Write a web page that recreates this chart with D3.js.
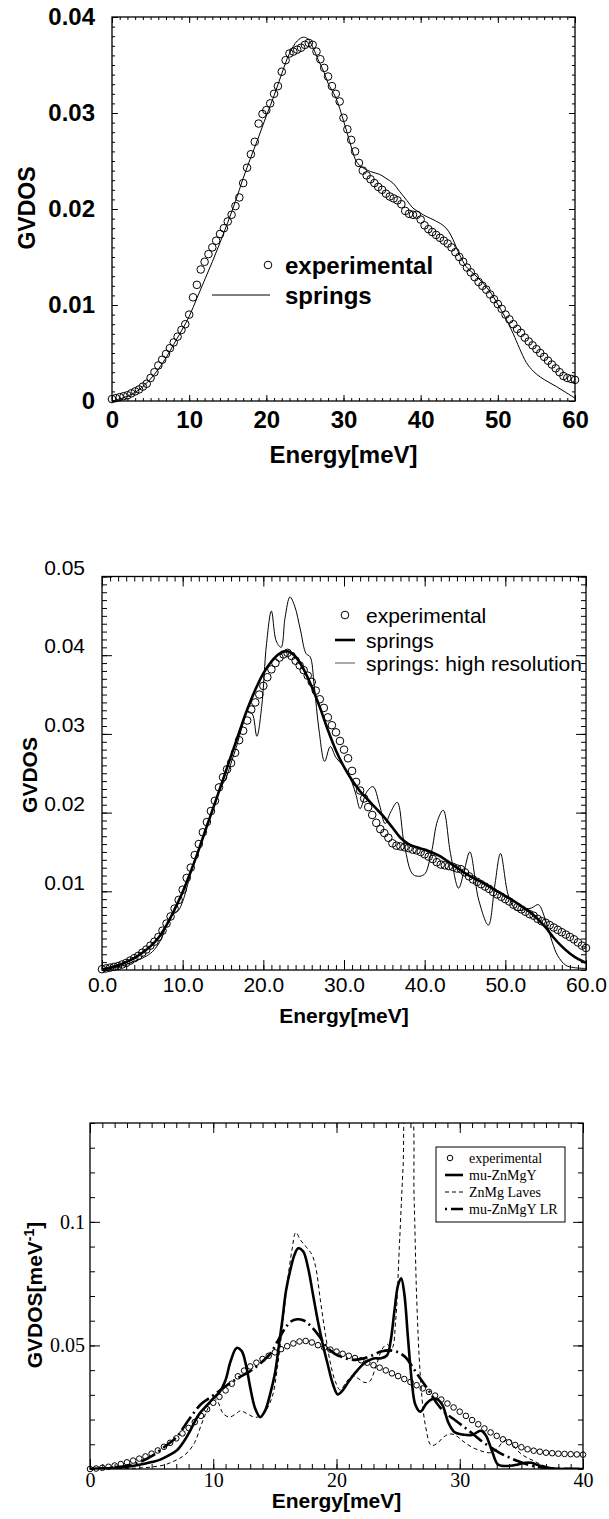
<!DOCTYPE html>
<html>
<head>
<meta charset="utf-8">
<script src="https://cdn.jsdelivr.net/npm/d3@7"></script>
<style>
  body { margin: 0; background: #fff; }
  svg { display: block; }
</style>
</head>
<body>
<div id="chart"></div>
<script>
// ---- panel 1 data (Energy meV, GVDOS) ----
const p1Experimental = [
  [0,0.0002],[0.5,0.0003],[1,0.0004],[1.5,0.0005],[2,0.0006],[2.5,0.0008],[3,0.001],[3.5,0.0012],
  [4,0.0015],[4.5,0.0018],[5,0.0024],[5.5,0.003],[6,0.0037],[6.5,0.0043],[7,0.0049],[7.5,0.0055],
  [8,0.0061],[8.5,0.0067],[9,0.0074],[9.5,0.008],[10,0.009],[10.5,0.0108],[11,0.0121],[11.5,0.0137],
  [12,0.0145],[12.5,0.0153],[13,0.016],[13.5,0.0167],[14,0.0174],[14.5,0.018],[15,0.0187],[15.5,0.0194],
  [16,0.0203],[16.5,0.0212],[17,0.0227],[17.5,0.0243],[18,0.0257],[18.5,0.027],[19,0.0289],[19.5,0.0299],
  [20,0.0303],[20.5,0.031],[21,0.032],[21.5,0.0328],[22,0.0343],[22.5,0.0355],[23,0.0362],[23.5,0.0364],
  [24,0.0366],[24.5,0.0368],[25,0.0371],[25.5,0.0373],[26,0.0371],[26.5,0.0364],[27,0.0356],[27.5,0.0347],
  [28,0.0338],[28.5,0.0328],[29,0.032],[29.5,0.0312],[30,0.0295],[30.5,0.0283],[31,0.0272],[31.5,0.026],
  [32,0.0248],[32.5,0.024],[33,0.0235],[33.5,0.0231],[34,0.0227],[34.5,0.0223],[35,0.022],[35.5,0.0216],
  [36,0.0213],[36.5,0.0211],[37,0.0209],[37.5,0.0205],[38,0.0198],[38.5,0.0195],[39,0.0194],[39.5,0.0194],
  [40,0.0189],[40.5,0.0183],[41,0.0179],[41.5,0.0176],[42,0.0173],[42.5,0.017],[43,0.0167],[43.5,0.0164],
  [44,0.016],[44.5,0.0155],[45,0.015],[45.5,0.0145],[46,0.0139],[46.5,0.0134],[47,0.0129],[47.5,0.0124],
  [48,0.012],[48.5,0.0116],[49,0.0111],[49.5,0.0106],[50,0.0101],[50.5,0.0096],[51,0.009],[51.5,0.0085],
  [52,0.008],[52.5,0.0075],[53,0.0071],[53.5,0.0066],[54,0.0062],[54.5,0.0058],[55,0.0054],[55.5,0.005],
  [56,0.0046],[56.5,0.0042],[57,0.0038],[57.5,0.0034],[58,0.003],[58.5,0.0026],[59,0.0024],[59.5,0.0023],
  [60,0.0022]
];
const p1Springs = [
  [0,0],[1,0.0002],[2,0.0005],[3,0.0009],[4,0.0015],[5,0.0023],[6,0.0033],[7,0.0045],[8,0.0059],
  [9,0.0073],[10,0.0088],[11,0.0107],[12,0.0126],[13,0.0145],[14,0.0165],[15,0.0186],[16,0.0208],
  [17,0.0232],[18,0.0254],[19,0.0275],[20,0.0297],[21,0.0318],[22,0.0341],[23,0.0362],[24,0.0375],
  [24.8,0.0379],[25.4,0.0377],[26,0.0369],[26.8,0.0354],[27.5,0.0342],[28,0.0331],[29,0.0316],
  [30,0.0292],[31,0.0265],[31.7,0.0249],[32.5,0.0243],[33.5,0.0239],[34.7,0.0236],[35.5,0.0232],
  [36.4,0.0227],[37.3,0.0218],[38.2,0.0209],[39,0.0201],[39.9,0.0196],[40.8,0.0192],[41.6,0.0189],
  [42.9,0.0183],[43.6,0.0177],[44.2,0.0168],[45,0.0153],[45.9,0.014],[46.8,0.0133],[47.7,0.0126],
  [48.6,0.0118],[49.4,0.0109],[50.1,0.0099],[50.7,0.0091],[51.4,0.008],[52,0.007],[52.8,0.0055],
  [53.7,0.004],[54.6,0.0031],[55.5,0.0025],[56.5,0.002],[57.6,0.0015],[58.8,0.0009],[60,0.0003]
];
const p1XTicks = [0, 10, 20, 30, 40, 50, 60];
const p1XLabels = ["0", "10", "20", "30", "40", "50", "60"];
const p1YTicks = [0, 0.01, 0.02, 0.03, 0.04];
const p1YLabels = ["0", "0.01", "0.02", "0.03", "0.04"];

// ---- panel 2 data ----
const p2Experimental = [
  [0,0.0001],[0.5,0.0002],[1,0.0003],[1.5,0.0004],[2,0.0005],[2.5,0.0007],[3,0.0009],[3.5,0.0012],
  [4,0.0015],[4.5,0.0018],[5,0.0022],[5.5,0.0026],[6,0.0031],[6.5,0.0036],[7,0.0042],[7.5,0.005],
  [8,0.0059],[8.5,0.0068],[9,0.0078],[9.5,0.0089],[10,0.0102],[10.5,0.0117],[11,0.013],[11.5,0.0146],
  [12,0.016],[12.5,0.0175],[13,0.0188],[13.5,0.0202],[14,0.0215],[14.5,0.0232],[15,0.0245],[15.5,0.0255],
  [16,0.0263],[16.5,0.0276],[17,0.0292],[17.5,0.0304],[18,0.0317],[18.5,0.0331],[19,0.034],[19.5,0.035],
  [20,0.0361],[20.5,0.0372],[21,0.0382],[21.5,0.039],[22,0.0397],[22.5,0.0401],[23,0.0403],[23.5,0.0399],
  [24,0.0393],[24.5,0.0387],[25,0.0381],[25.5,0.0374],[26,0.0366],[26.5,0.0355],[27,0.0344],[27.5,0.0333],
  [28,0.0321],[28.5,0.0311],[29,0.0302],[29.5,0.0291],[30,0.028],[30.5,0.0269],[31,0.0253],[31.5,0.0239],
  [32,0.0228],[32.5,0.0218],[33,0.0207],[33.5,0.0197],[34,0.0187],[34.5,0.0179],[35,0.0174],[35.5,0.0168],
  [36,0.0161],[36.5,0.0158],[37,0.0157],[37.5,0.0156],[38,0.0155],[38.5,0.0153],[39,0.0152],[39.5,0.015],
  [40,0.0147],[40.5,0.0144],[41,0.0141],[41.5,0.0137],[42,0.0134],[42.5,0.0133],[43,0.0132],[43.5,0.0131],
  [44,0.0129],[44.5,0.0128],[45,0.0124],[45.5,0.0119],[46,0.0115],[46.5,0.0112],[47,0.0109],[47.5,0.0106],
  [48,0.0103],[48.5,0.0099],[49,0.0096],[49.5,0.0093],[50,0.009],[50.5,0.0087],[51,0.0083],[51.5,0.008],
  [52,0.0077],[52.5,0.0074],[53,0.0071],[53.5,0.0069],[54,0.0065],[54.5,0.0062],[55,0.006],[55.5,0.0057],
  [56,0.0054],[56.5,0.0051],[57,0.0048],[57.5,0.0045],[58,0.0042],[58.5,0.0039],[59,0.0035],[59.5,0.0031],
  [60,0.0028]
];
const p2Springs = [
  [0,0.0001],[1,0.0003],[2,0.0006],[3,0.001],[4,0.0015],[5,0.0022],[6,0.003],[7,0.0041],[8,0.0057],
  [9,0.0077],[10,0.0099],[11,0.0125],[12,0.0153],[13,0.0183],[14,0.0212],[15,0.0242],[16,0.0272],
  [17,0.0302],[18,0.0331],[19,0.0356],[20,0.0377],[21,0.0392],[22,0.0402],[23,0.0405],[24,0.0398],
  [25,0.0382],[26,0.036],[27,0.0334],[28,0.0305],[29,0.0279],[30,0.0258],[31,0.0241],[32,0.0227],
  [33,0.0216],[34,0.0205],[35,0.0194],[36,0.0181],[37,0.0168],[38,0.016],[39,0.0156],[40,0.0153],
  [41,0.0149],[42,0.0144],[43,0.0137],[44,0.013],[45,0.0123],[46,0.0117],[47,0.0112],[48,0.0106],
  [49,0.01],[50,0.0094],[51,0.0088],[52,0.0081],[53,0.0074],[54,0.0065],[55,0.0054],[56,0.0041],
  [57,0.003],[58,0.0021],[59,0.0014],[60,0.0009]
];
const p2HighRes = [
  [0,0.0001],[1,0.0002],[2,0.0004],[3,0.0007],[4,0.0011],[5,0.0015],[6,0.0021],[6.5,0.0026],[7,0.0033],
  [7.5,0.0043],[8,0.0058],[8.5,0.0068],[9,0.0072],[9.5,0.0076],[10,0.0087],[10.5,0.0104],[11,0.0123],
  [12,0.0153],[13,0.0182],[14,0.0212],[14.7,0.0232],[15.3,0.0242],[16,0.0263],[16.7,0.0285],[17.4,0.031],
  [18,0.0328],[18.6,0.0326],[19.2,0.0297],[19.8,0.0335],[20.4,0.0415],[21,0.0456],[21.6,0.0418],
  [22.2,0.041],[22.7,0.0448],[23.3,0.0474],[23.9,0.0462],[24.6,0.0432],[25.3,0.0402],[25.8,0.0398],
  [26.3,0.0362],[26.9,0.0305],[27.6,0.0265],[28.3,0.0284],[29,0.027],[30,0.0258],[31,0.0238],
  [31.5,0.0222],[32,0.0205],[32.8,0.0226],[33.6,0.0233],[34.4,0.021],[35.1,0.0186],[35.8,0.0201],
  [36.6,0.0213],[37.5,0.0158],[38.6,0.0121],[39.9,0.0121],[40.8,0.0148],[41.6,0.019],[42.3,0.0203],
  [43.2,0.0148],[44.2,0.0104],[44.9,0.0126],[45.6,0.015],[46.7,0.0089],[47.9,0.0057],[48.7,0.0108],
  [49.4,0.0148],[50.4,0.0094],[51.4,0.0076],[52.5,0.0077],[53.3,0.0079],[54.1,0.0083],[54.9,0.0066],
  [55.8,0.0036],[56.5,0.0018],[57.5,0.0006],[58.5,0.0003],[60,0.0002]
];
const p2XTicks = [0, 10, 20, 30, 40, 50, 60];
const p2XLabels = ["0.0", "10.0", "20.0", "30.0", "40.0", "50.0", "60.0"];
const p2YTicks = [0.01, 0.02, 0.03, 0.04, 0.05];
const p2YLabels = ["0.01", "0.02", "0.03", "0.04", "0.05"];

// ---- panel 3 data ----
const p3Experimental = [
  [0,0],[0.5,0.0002],[1,0.0005],[1.5,0.0009],[2,0.0014],[2.5,0.002],[3,0.0027],[3.5,0.0034],[4,0.0042],
  [4.5,0.0051],[5,0.0062],[5.5,0.0075],[6,0.009],[6.5,0.0106],[7,0.0124],[7.5,0.0144],[8,0.0166],
  [8.5,0.019],[9,0.0215],[9.5,0.0242],[10,0.0268],[10.5,0.0292],[11,0.0318],[11.5,0.0345],[12,0.0375],
  [12.5,0.0398],[13,0.0415],[13.5,0.043],[14,0.0445],[14.5,0.0458],[15,0.0472],[15.5,0.0485],[16,0.0497],
  [16.5,0.0508],[17,0.0516],[17.5,0.0518],[18,0.0512],[18.5,0.0501],[19,0.0491],[19.5,0.0483],[20,0.0475],
  [20.5,0.0466],[21,0.0458],[21.5,0.0449],[22,0.044],[22.5,0.043],[23,0.042],[23.5,0.041],[24,0.0399],
  [24.5,0.0387],[25,0.0376],[25.5,0.0364],[26,0.0352],[26.5,0.0339],[27,0.0326],[27.5,0.0312],[28,0.0297],
  [28.5,0.0281],[29,0.0265],[29.5,0.0249],[30,0.0232],[30.5,0.0215],[31,0.0198],[31.5,0.0181],[32,0.0164],
  [32.5,0.0148],[33,0.0134],[33.5,0.012],[34,0.0108],[34.5,0.0097],[35,0.0088],[35.5,0.008],[36,0.0074],
  [36.5,0.007],[37,0.0066],[37.5,0.0064],[38,0.0062],[38.5,0.0061],[39,0.006],[39.5,0.0059],[40,0.0058]
];
const p3MuZnMgY = [
  [0,0],[1,0.0002],[2,0.0005],[3,0.0009],[4,0.0017],[5,0.0028],[5.7,0.0038],[6.5,0.0058],[7.1,0.0078],
  [7.6,0.011],[8.1,0.0152],[8.5,0.0192],[8.9,0.0225],[9.5,0.0258],[10,0.0286],[10.5,0.031],[11,0.036],
  [11.4,0.0435],[11.9,0.049],[12.3,0.0478],[12.7,0.041],[13,0.033],[13.4,0.0245],[13.8,0.021],[14.2,0.0235],
  [14.6,0.03],[15,0.0385],[15.3,0.049],[15.6,0.06],[15.9,0.072],[16.3,0.0815],[16.6,0.0868],[16.9,0.0893],
  [17.3,0.088],[17.7,0.0812],[18.1,0.0704],[18.5,0.0596],[18.9,0.0502],[19.3,0.0421],[19.7,0.0345],
  [20.1,0.0302],[20.5,0.0318],[21,0.0355],[21.6,0.0394],[22.3,0.043],[23,0.0447],[23.6,0.0448],
  [24.1,0.046],[24.4,0.052],[24.7,0.064],[25,0.0745],[25.25,0.0772],[25.5,0.071],[25.8,0.053],
  [26.1,0.036],[26.4,0.026],[26.8,0.0232],[27.3,0.0265],[27.8,0.0283],[28.2,0.0282],[28.6,0.0258],
  [29.1,0.0185],[29.6,0.0148],[30.3,0.0139],[31,0.0138],[31.7,0.0155],[32.1,0.0138],[32.6,0.0075],
  [33.1,0.0018],[33.8,0.0012],[34.5,0.0016],[35.3,0.0025],[35.8,0.0025],[36.5,0.0013],[37.3,0.0004],
  [38,0.0001],[40,0]
];
const p3Laves = [
  [0,0],[2,0.0001],[3,0.0002],[4,0.0004],[5,0.0008],[6,0.0016],[6.5,0.0025],[7,0.0036],[7.5,0.005],
  [8,0.0072],[8.5,0.0108],[9,0.0175],[9.5,0.0238],[10,0.0285],[10.3,0.0278],[10.8,0.0225],[11.3,0.021],
  [11.8,0.0222],[12.2,0.0235],[12.7,0.0225],[13.2,0.0212],[13.6,0.021],[14.2,0.0232],[14.8,0.0295],
  [15.2,0.041],[15.6,0.057],[16,0.075],[16.4,0.089],[16.7,0.0957],[17.1,0.0925],[17.6,0.0895],[18,0.0868],
  [18.3,0.082],[18.7,0.068],[19.1,0.0545],[19.5,0.043],[19.9,0.0355],[20.3,0.032],[20.8,0.0352],
  [21.3,0.0378],[21.8,0.0365],[22.3,0.035],[22.7,0.0355],[23.2,0.0415],[23.7,0.0485],[24.1,0.0505],
  [24.5,0.049],[24.8,0.06],[25.1,0.09],[25.4,0.122],[25.7,0.148],[26,0.148],[26.3,0.109],[26.5,0.07],
  [26.8,0.038],[27.2,0.018],[27.7,0.0095],[28.2,0.0105],[28.7,0.013],[29.2,0.0142],[29.7,0.0135],
  [30.2,0.0115],[31,0.0088],[31.8,0.0072],[32.5,0.0066],[33,0.008],[33.5,0.011],[34,0.012],[34.5,0.0085],
  [35,0.006],[35.5,0.0045],[36,0.0033],[36.5,0.002],[37,0.001],[37.5,0.0004],[38,0.0001],[40,0]
];
const p3MuZnMgYLR = [
  [0,0],[1,0.0002],[2,0.0006],[3,0.0013],[4,0.0027],[5,0.0052],[6,0.0088],[7,0.0128],[8,0.0198],
  [9,0.0262],[10,0.0298],[11,0.0335],[12,0.0368],[13,0.0396],[14,0.0435],[14.6,0.0465],[15.2,0.0515],
  [15.8,0.0567],[16.3,0.0597],[16.8,0.0606],[17.3,0.0602],[17.8,0.0584],[18.3,0.0557],[18.8,0.0523],
  [19.3,0.049],[19.8,0.0468],[20.5,0.0452],[21.2,0.0442],[22,0.0445],[22.8,0.0458],[23.6,0.0475],
  [24.3,0.048],[25,0.0472],[25.6,0.0452],[26.1,0.0418],[26.6,0.038],[27.1,0.0345],[27.6,0.0308],
  [28.2,0.0262],[28.8,0.0228],[29.5,0.0202],[30.2,0.0176],[31,0.0145],[31.8,0.0112],[32.5,0.0088],
  [33.2,0.0066],[34,0.0047],[34.8,0.003],[35.6,0.0017],[36.4,0.0008],[37.2,0.0003],[38,0.0001],[40,0]
];
const p3XTicks = [0, 10, 20, 30, 40];
const p3XLabels = ["0", "10", "20", "30", "40"];
const p3YTicks = [0.05, 0.1];
const p3YLabels = ["0.05", "0.1"];

const SANS = "'Liberation Sans', Arial, Helvetica, sans-serif";
const SERIF = "'Liberation Serif', 'Times New Roman', serif";

const svg = d3.select("#chart").append("svg")
    .attr("width", 609)
    .attr("height", 1519);

// draws a boxed frame with inward ticks on all four sides, returns scales + plot group
function panel(cfg) {
    const x = d3.scaleLinear().domain(cfg.xDomain).range([cfg.left, cfg.right]);
    const y = d3.scaleLinear().domain(cfg.yDomain).range([cfg.bottom, cfg.top]);
    const g = svg.append("g");

    g.append("clipPath").attr("id", cfg.id).append("rect")
        .attr("x", cfg.left).attr("y", cfg.top)
        .attr("width", cfg.right - cfg.left).attr("height", cfg.bottom - cfg.top);

    const sides = [
        { make: d3.axisBottom, s: x, t: `translate(0,${cfg.bottom})`, minor: cfg.xMinor, major: cfg.xTicks, labels: cfg.xLabels, pad: cfg.xPad },
        { make: d3.axisTop, s: x, t: `translate(0,${cfg.top})`, minor: cfg.xMinor, major: cfg.xTicks },
        { make: d3.axisLeft, s: y, t: `translate(${cfg.left},0)`, minor: cfg.yMinor, major: cfg.yTicks, labels: cfg.yLabels, pad: cfg.yPad },
        { make: d3.axisRight, s: y, t: `translate(${cfg.right},0)`, minor: cfg.yMinor, major: cfg.yTicks }
    ];
    sides.forEach(sd => {
        g.append("g").attr("transform", sd.t)
            .call(sd.make(sd.s).tickValues(sd.minor).tickSize(-cfg.minorLen).tickFormat(""))
            .call(a => a.select(".domain").remove());
        const ax = g.append("g").attr("transform", sd.t)
            .call(sd.make(sd.s).tickValues(sd.major).tickSize(-cfg.majorLen)
                .tickPadding(sd.pad || 3)
                .tickFormat((d, i) => sd.labels ? sd.labels[i] : ""))
            .call(a => a.select(".domain").remove());
        ax.attr("font-family", cfg.font)
            .attr("font-size", cfg.fontSize)
            .attr("font-weight", cfg.fontWeight);
        ax.selectAll("text").attr("fill", "#000");
        if (sd.make === d3.axisLeft && cfg.yLabelShift) ax.selectAll("text").attr("y", cfg.yLabelShift);
    });

    g.append("rect")
        .attr("x", cfg.left).attr("y", cfg.top)
        .attr("width", cfg.right - cfg.left).attr("height", cfg.bottom - cfg.top)
        .attr("fill", "none").attr("stroke", "#000").attr("stroke-width", 1.3);

    const plot = g.append("g").attr("clip-path", `url(#${cfg.id})`);
    return { x, y, g, plot };
}

function drawLine(p, data, width, dash) {
    p.plot.append("path")
        .datum(data)
        .attr("fill", "none")
        .attr("stroke", "#000")
        .attr("stroke-width", width)
        .attr("stroke-dasharray", dash || null)
        .attr("d", d3.line()
            .x(d => p.x(d[0]))
            .y(d => p.y(d[1]))
            .curve(d3.curveCatmullRom.alpha(0.5)));
}

function drawCircles(p, data, r) {
    p.g.append("g").selectAll("circle")
        .data(data)
        .join("circle")
        .attr("cx", d => p.x(d[0]))
        .attr("cy", d => p.y(d[1]))
        .attr("r", r)
        .attr("fill", "none")
        .attr("stroke", "#000")
        .attr("stroke-width", 1);
}

// ================= Panel 1 =================
const P1 = panel({
    id: "c1", left: 112, right: 575, top: 17, bottom: 401,
    xDomain: [0, 60], yDomain: [0, 0.04],
    xTicks: p1XTicks, xLabels: p1XLabels, xMinor: d3.range(0, 61, 1),
    yTicks: p1YTicks, yLabels: p1YLabels, yMinor: d3.range(0, 0.0401, 0.001),
    majorLen: 6, minorLen: 3, xPad: 10, yPad: 17,
    font: SANS, fontSize: 24, fontWeight: "bold"
});
drawLine(P1, p1Springs, 1);
drawCircles(P1, p1Experimental, 3.8);

svg.append("text").attr("x", 343.5).attr("y", 463)
    .attr("text-anchor", "middle").attr("font-family", SANS)
    .attr("font-size", 24).attr("font-weight", "bold").text("Energy[meV]");
svg.append("text").attr("transform", "translate(35,208) rotate(-90)")
    .attr("text-anchor", "middle").attr("font-family", SANS)
    .attr("font-size", 23).attr("font-weight", "bold").text("GVDOS");

// legend panel 1
svg.append("circle").attr("cx", 268).attr("cy", 265).attr("r", 3.8)
    .attr("fill", "none").attr("stroke", "#000");
svg.append("line").attr("x1", 212).attr("x2", 270).attr("y1", 295).attr("y2", 295)
    .attr("stroke", "#000").attr("stroke-width", 1);
svg.append("text").attr("x", 285).attr("y", 273.5).attr("font-family", SANS)
    .attr("font-size", 24).attr("font-weight", "bold").text("experimental");
svg.append("text").attr("x", 285).attr("y", 303.5).attr("font-family", SANS)
    .attr("font-size", 24).attr("font-weight", "bold").text("springs");

// ================= Panel 2 =================
const P2 = panel({
    id: "c2", left: 102, right: 586, top: 576.5, bottom: 970,
    xDomain: [0, 60], yDomain: [0, 0.05],
    xTicks: p2XTicks, xLabels: p2XLabels, xMinor: d3.range(0, 61, 1),
    yTicks: p2YTicks, yLabels: p2YLabels, yMinor: d3.range(0, 0.0501, 0.001),
    majorLen: 10, minorLen: 5, xPad: 7, yPad: 17, yLabelShift: -9,
    font: SANS, fontSize: 21, fontWeight: "normal"
});
drawLine(P2, p2HighRes, 1);
drawLine(P2, p2Springs, 2.6);
drawCircles(P2, p2Experimental, 3.8);

svg.append("text").attr("x", 344).attr("y", 1022.5)
    .attr("text-anchor", "middle").attr("font-family", SANS)
    .attr("font-size", 21).attr("font-weight", "bold").text("Energy[meV]");
svg.append("text").attr("transform", "translate(36.5,775) rotate(-90)")
    .attr("text-anchor", "middle").attr("font-family", SANS)
    .attr("font-size", 21).attr("font-weight", "bold").text("GVDOS");

// legend panel 2
svg.append("circle").attr("cx", 345).attr("cy", 615).attr("r", 3.8)
    .attr("fill", "none").attr("stroke", "#000");
svg.append("line").attr("x1", 335).attr("x2", 355).attr("y1", 640).attr("y2", 640)
    .attr("stroke", "#000").attr("stroke-width", 2.6);
svg.append("line").attr("x1", 335).attr("x2", 355).attr("y1", 663).attr("y2", 663)
    .attr("stroke", "#555").attr("stroke-width", 1);
[["experimental", 615], ["springs", 640], ["springs: high resolution", 663]].forEach(([t, cy]) => {
    svg.append("text").attr("x", 366).attr("y", cy + 7.5).attr("font-family", SANS)
        .attr("font-size", 21).text(t);
});

// ================= Panel 3 =================
const P3 = panel({
    id: "c3", left: 90, right: 583, top: 1123, bottom: 1469,
    xDomain: [0, 40], yDomain: [0, 0.14],
    xTicks: p3XTicks, xLabels: p3XLabels, xMinor: d3.range(0, 41, 1),
    yTicks: p3YTicks, yLabels: p3YLabels, yMinor: d3.range(0, 0.1401, 0.01),
    majorLen: 10, minorLen: 5, xPad: 4, yPad: 5,
    font: SERIF, fontSize: 20, fontWeight: "normal"
});
drawLine(P3, p3Laves, 1, "4,3");
drawLine(P3, p3MuZnMgYLR, 2.6, "16,4,2,4");
drawLine(P3, p3MuZnMgY, 2.6);
drawCircles(P3, p3Experimental, 2.8);

svg.append("text").attr("x", 336.5).attr("y", 1508)
    .attr("text-anchor", "middle").attr("font-family", SANS)
    .attr("font-size", 21).attr("font-weight", "bold").text("Energy[meV]");
const yl3 = svg.append("text").attr("transform", "translate(42,1295) rotate(-90)")
    .attr("text-anchor", "middle").attr("font-family", SANS)
    .attr("font-size", 21).attr("font-weight", "bold");
yl3.append("tspan").text("GVDOS[meV");
yl3.append("tspan").attr("dy", -8).attr("font-size", 14).text("-1");
yl3.append("tspan").attr("dy", 8).text("]");

// legend panel 3
const lg3 = svg.append("g").attr("font-family", SERIF).attr("font-size", 14);
lg3.append("rect").attr("x", 436).attr("y", 1147).attr("width", 129).attr("height", 75)
    .attr("fill", "#fff").attr("stroke", "#000").attr("stroke-width", 1);
lg3.append("circle").attr("cx", 450).attr("cy", 1158).attr("r", 2.8)
    .attr("fill", "none").attr("stroke", "#000");
lg3.append("line").attr("x1", 445).attr("x2", 463).attr("y1", 1175).attr("y2", 1175)
    .attr("stroke", "#000").attr("stroke-width", 2.6);
lg3.append("line").attr("x1", 445).attr("x2", 463).attr("y1", 1192).attr("y2", 1192)
    .attr("stroke", "#000").attr("stroke-width", 1).attr("stroke-dasharray", "4,3");
lg3.append("line").attr("x1", 445).attr("x2", 463).attr("y1", 1209).attr("y2", 1209)
    .attr("stroke", "#000").attr("stroke-width", 2.6).attr("stroke-dasharray", "2,4,12,0");
[["experimental", 1158], ["mu-ZnMgY", 1175], ["ZnMg Laves", 1192], ["mu-ZnMgY LR", 1209]].forEach(([t, cy]) => {
    lg3.append("text").attr("x", 469).attr("y", cy + 4.5).text(t);
});
</script>
</body>
</html>
